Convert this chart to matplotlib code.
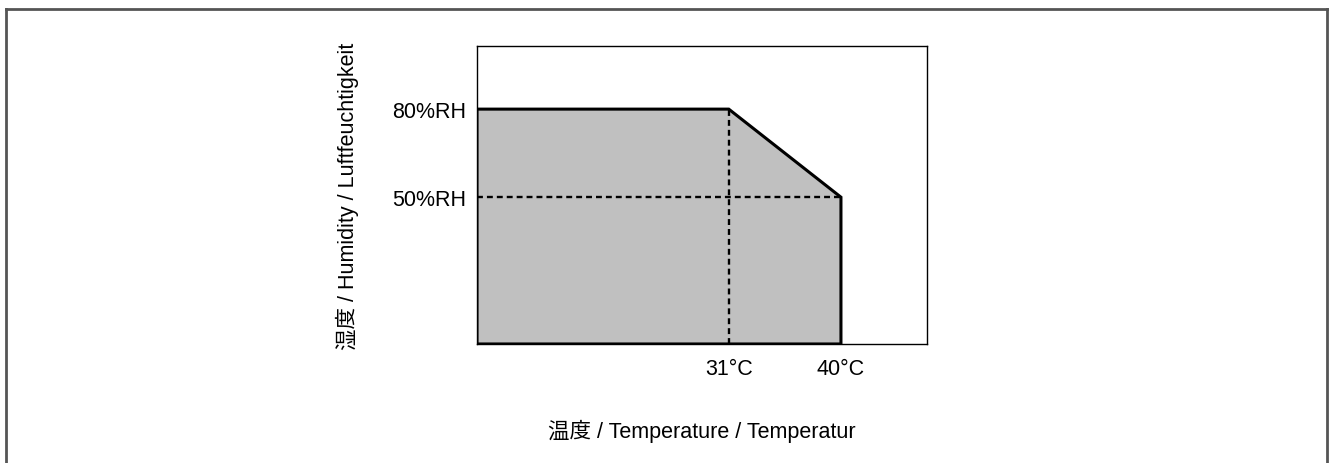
import matplotlib.pyplot as plt
from matplotlib.patches import Polygon
from matplotlib.lines import Line2D

# Operating range: temperature (°C) vs relative humidity (%RH)
temp_min = 10.8
temp_knee = 31
temp_max = 40
rh_max = 80
rh_min = 50

x_ticks = [31, 40]
x_tick_labels = ['31°C', '40°C']
y_ticks = [50, 80]
y_tick_labels = ['50%RH', '80%RH']

fonts = ['Liberation Sans', 'Noto Sans CJK JP']
plt.rcParams['font.family'] = fonts
fs = 15.5

fig = plt.figure(figsize=(13.33, 4.64), dpi=100)
ax = fig.add_axes([0.3578, 0.2565, 0.3376, 0.6422])

# shaded operating area
corners = [(temp_min, 0), (temp_min, rh_max), (temp_knee, rh_max),
           (temp_max, rh_min), (temp_max, 0)]
ax.add_patch(Polygon(corners, closed=True, facecolor='#c0c0c0',
                     edgecolor='black', linewidth=2.2, joinstyle='miter'))

# dashed guide lines
dash = (0, (2.5, 1.7))
ax.plot([temp_knee, temp_knee], [0, rh_max], color='black', lw=1.7,
        linestyle=dash)
ax.plot([temp_min, temp_max], [rh_min, rh_min], color='black', lw=1.7,
        linestyle=dash)

ax.set_xlim(temp_min, 46.9)
ax.set_ylim(0, 101.5)

ax.set_xticks(x_ticks)
ax.set_xticklabels(x_tick_labels, fontsize=fs)
ax.set_yticks(y_ticks)
ax.set_yticklabels(y_tick_labels, fontsize=fs)
ax.tick_params(length=0, pad=10)
ax.tick_params(axis='y', pad=8)

for s in ax.spines.values():
    s.set_linewidth(1.0)

ax.set_xlabel('温度 / Temperature / Temperatur', fontsize=fs, labelpad=29)
ax.set_ylabel('湿度 / Humidity / Luftfeuchtigkeit', fontsize=fs, labelpad=24)

# outer frame (open at the bottom)
frame_kw = dict(color='#555555', lw=2, transform=fig.transFigure)
l, r, t = 6 / 1333, 1327 / 1333, 1 - 10 / 464
fig.add_artist(Line2D([l, l], [0, t], **frame_kw))
fig.add_artist(Line2D([l, r], [t, t], **frame_kw))
fig.add_artist(Line2D([r, r], [0, t], **frame_kw))

plt.savefig('out.png', dpi=100)
